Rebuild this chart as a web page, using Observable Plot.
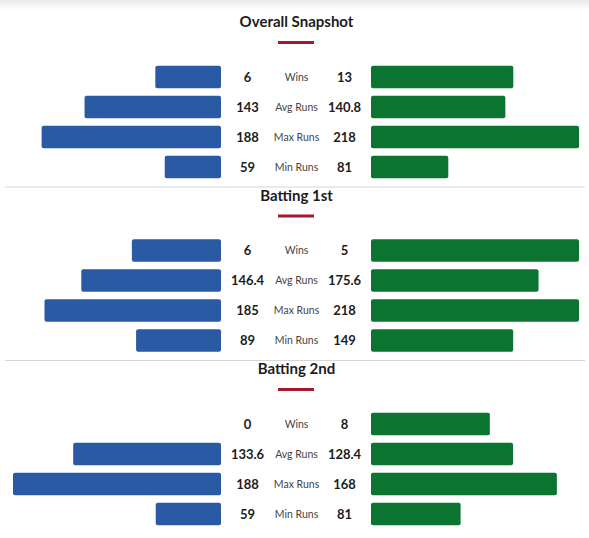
<!DOCTYPE html>
<html>
<head>
<meta charset="utf-8">
<script src="https://cdn.jsdelivr.net/npm/d3@7"></script>
<script src="https://cdn.jsdelivr.net/npm/@observablehq/plot@0.6"></script>
<style>
  html, body { margin: 0; padding: 0; background: #fff; }
  body { width: 589px; height: 538px; position: relative; overflow: hidden; }
  #shade { position: absolute; left: 0; top: 0; width: 589px; height: 10px;
           background: linear-gradient(#e9e9e9, rgba(255,255,255,0)); pointer-events: none; }
  #chart svg { display: block; background: transparent; }
</style>
</head>
<body>
<div id="chart"></div>
<div id="shade"></div>
<script>
// ---- data ----
const sections = ["Overall Snapshot", "Batting 1st", "Batting 2nd"];
const metrics = ["Wins", "Avg Runs", "Max Runs", "Min Runs"];
const teamA = [
  [6, 143, 188, 59],
  [6, 146.4, 185, 89],
  [0, 133.6, 188, 59]
];
const teamB = [
  [13, 140.8, 218, 81],
  [5, 175.6, 218, 149],
  [8, 128.4, 168, 81]
];
// matches used to turn wins into a share (overall: share of all wins)
const matchesA = [19, 14, 5];
const matchesB = [19, 5, 14];

// ---- layout ----
const W = 589, H = 538;
const unit = 208, center = 296;
const gap = 75 / unit;
const secStep = 173.5, titleTop = 22, rowOffset = 55, rowStep = 30, barH = 22.5;
const blue = "#2a5aa3", green = "#0b7430";

const rows = [];
sections.forEach((s, si) => {
  const runMax = d3.max([...teamA[si].slice(1), ...teamB[si].slice(1)]);
  metrics.forEach((m, mi) => {
    const a = teamA[si][mi], b = teamB[si][mi];
    const fa = mi === 0 ? a / matchesA[si] : a / runMax;
    const fb = mi === 0 ? b / matchesB[si] : b / runMax;
    const y = titleTop + si * secStep + rowOffset + mi * rowStep;
    rows.push({section: s, metric: m, a, b, fa, fb, y});
  });
});
const titles = sections.map((s, si) => ({title: s, y: titleTop + si * secStep}));
const seps = sections.slice(1).map((s, i) => ({y: titleTop + (i + 1) * secStep - 9}));

const plot = Plot.plot({
  width: W, height: H,
  margin: 0,
  x: {domain: [-center / unit, (W - center) / unit], range: [0, W], axis: null},
  y: {domain: [0, H], range: [0, H], axis: null},
  style: {background: "transparent", fontFamily: "Lato, sans-serif"},
  marks: [
    Plot.ruleY(seps, {y: "y", x1: (-center + 5) / unit, x2: (W - center - 4) / unit, stroke: "#d6d6d6", strokeWidth: 1}),
    Plot.text(titles, {x: 0, y: "y", text: "title", fontSize: 15, fontWeight: "bold", fill: "#1c1c1c"}),
    Plot.ruleY(titles, {y: d => d.y + 20, x1: -18 / unit, x2: 18 / unit, stroke: "#a3182f", strokeWidth: 3}),
    Plot.rect(rows.filter(d => d.fa > 0), {x1: d => -gap - d.fa, x2: -gap, y1: d => d.y - barH / 2, y2: d => d.y + barH / 2, fill: blue, rx: 2}),
    Plot.rect(rows.filter(d => d.fb > 0), {x1: gap, x2: d => gap + d.fb, y1: d => d.y - barH / 2, y2: d => d.y + barH / 2, fill: green, rx: 2}),
    Plot.text(rows, {x: -49 / unit, y: "y", text: d => String(d.a), fontSize: 13, fontWeight: "bold", fill: "#1c1c1c"}),
    Plot.text(rows, {x: 48 / unit, y: "y", text: d => String(d.b), fontSize: 13, fontWeight: "bold", fill: "#1c1c1c"}),
    Plot.text(rows, {x: 0, y: "y", text: "metric", fontSize: 10.5, fill: "#444"})
  ]
});
document.getElementById("chart").appendChild(plot);
</script>
</body>
</html>
